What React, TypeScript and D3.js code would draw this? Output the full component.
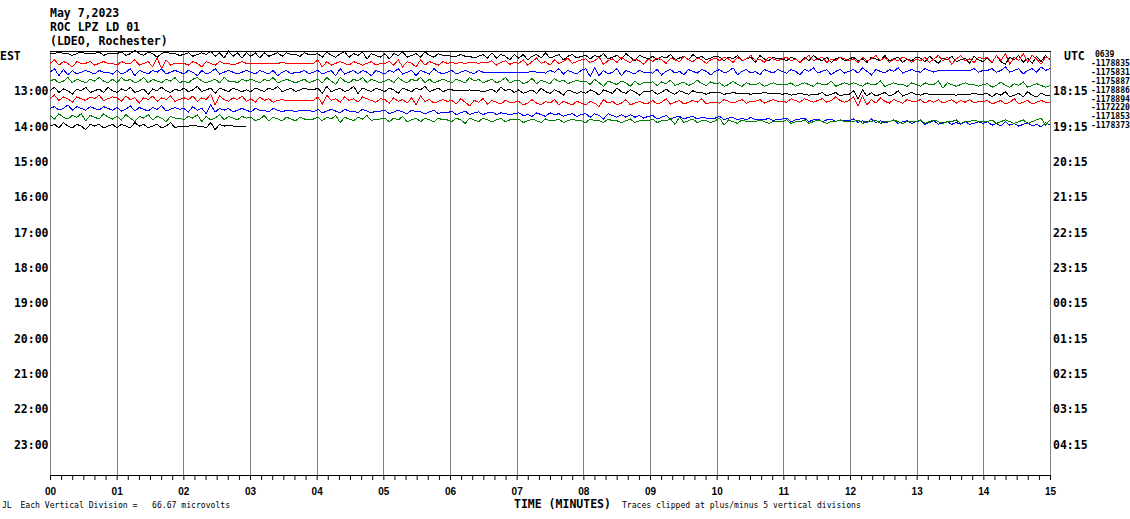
import React, { useEffect, useRef } from 'react';
import * as d3 from 'd3';

// one helicorder row = 15 minutes, one sample every 4 s (15 per minute line)
// values in tenths of a vertical division, positive = up
const row1200 = [
  2,2,4,2,2,0,2,4,2,2,2,4,0,2,2,
  2,4,0,2,6,2,0,4,2,-2,2,4,2,2,0,
  1,3,-1,1,3,1,5,-1,3,-3,5,-1,3,-3,3,
  -1,3,-3,3,-1,1,3,-1,3,1,1,-1,3,1,1,
  2,-2,4,0,-2,2,4,-2,2,0,4,-4,2,0,-2,
  2,-4,2,0,4,-2,0,2,-2,4,0,-2,2,0,0,
  -1,-1,1,-1,-1,-3,-1,1,-3,3,-3,1,-1,-5,1,
  -3,1,-5,-1,1,-3,3,-3,-1,1,-5,-1,1,-3,-1,
  0,-4,0,-2,2,-4,-2,0,-4,2,-2,-6,0,-2,-4,
  -1,-5,-1,-3,1,-5,-3,-1,-5,1,-3,-1,-5,-3,-1,
  -2,-6,-2,-4,0,-6,-4,-2,-8,0,-4,-6,-2,-4,-4,
  -6,-2,-4,-8,-2,-6,0,-4,-6,-2,-8,-4,-2,-6,-4,
  -2,-6,-4,-8,-2,-4,-6,0,-6,-4,-2,-8,-4,-6,-2,
  -3,-7,-1,-5,-9,-3,-5,-1,-7,-5,-3,-9,-1,-5,-7,
  -3,-8,0,-7,-10,-2,-5,0,-8,-3,-9,-1,-7,0,-5,
];
const row1215 = [
  1,5,-1,3,1,-3,3,1,1,3,-1,1,3,1,1,
  -1,3,1,1,5,-1,1,3,-3,7,-5,5,-1,1,1,
  1,-1,3,1,-3,3,1,-1,3,1,1,-1,1,3,1,
  1,1,1,1,1,1,1,2,1,1,1,1,1,1,1,
  5,-3,3,-1,1,3,1,-1,3,1,-1,1,3,-1,1,
  1,3,-1,5,-3,3,1,-3,5,-1,3,1,-1,3,1,
  2,1,2,1,2,2,1,2,2,4,-1,2,4,0,2,
  1,5,-1,3,7,1,3,-1,5,1,3,7,1,3,5,
  6,2,4,8,0,4,6,2,8,4,2,6,4,0,6,
  3,7,5,1,7,5,3,9,5,3,7,5,1,5,7,
  4,8,6,2,8,4,6,10,4,6,2,8,6,4,6,
  8,4,6,2,6,10,4,6,8,2,6,4,8,6,4,
  6,2,8,4,6,10,4,8,2,6,4,8,6,2,6,
  4,8,2,6,10,4,8,0,6,10,4,6,2,8,6,
  8,2,10,4,12,0,8,4,12,2,10,6,0,8,6,
];
const row1230 = [
  1,5,-3,4,-2,3,-1,1,3,1,-1,3,1,1,-1,
  3,-1,1,5,-3,3,1,-1,3,1,5,-1,1,3,1,
  -1,3,1,-3,3,-1,1,5,-1,1,3,1,-1,1,3,
  1,-1,3,1,-1,3,-3,1,3,-1,1,1,3,-1,1,
  3,-1,1,3,-3,5,-1,1,3,-1,3,1,-3,3,1,
  -1,3,1,5,-1,1,3,-3,3,1,-1,5,1,-1,1,
  3,-1,1,3,1,-1,3,1,1,1,1,1,1,1,1,
  1,1,1,2,1,1,0,3,1,5,-1,3,1,-1,3,
  5,-4,6,-3,3,-1,1,5,-3,3,1,-1,3,1,1,
  0,4,-2,2,4,0,2,-2,4,2,0,4,2,-2,2,
  4,0,2,6,-2,2,4,0,2,-2,4,2,0,4,2,
  0,4,2,-2,4,2,6,0,2,4,-2,2,4,0,2,
  4,0,6,2,-2,4,2,0,4,2,6,0,2,4,2,
  1,5,3,1,3,3,3,3,3,3,3,3,5,1,3,
  3,5,1,3,7,1,3,5,-1,3,5,1,7,3,5,
];
const row1245 = [
  1,3,-1,1,5,-1,3,1,-1,3,1,5,1,-1,3,
  -1,5,1,3,-1,1,5,-1,3,1,-1,3,1,5,-1,
  1,-1,3,5,1,-1,1,3,-1,5,1,1,-1,3,1,
  3,1,-1,3,1,5,-1,1,3,1,-1,1,3,-1,1,
  3,-1,5,1,-3,5,1,-1,3,1,5,-1,3,1,-1,
  1,3,-1,5,1,-1,3,1,5,-1,3,-1,1,3,1,
  -1,3,1,-1,5,1,3,-1,1,3,-1,1,5,-1,1,
  2,-2,0,4,-2,2,0,-2,4,0,2,-2,0,2,0,
  1,-3,3,-1,-5,1,-1,-3,1,-1,-5,1,-3,-1,-1,
  0,-4,0,-2,2,-4,-2,0,-4,-2,2,-2,-4,0,-2,
  -1,-5,-3,1,-3,-5,-1,-3,-3,-1,-5,-3,-1,-3,-3,
  -3,-1,-5,-3,-1,-3,-5,-1,-3,-3,1,-5,-3,-1,-3,
  -1,-3,-5,-1,-3,-3,1,-5,-3,-1,-3,-3,-5,-1,-3,
  -5,-1,-3,-3,1,-7,-1,-3,-5,-3,-1,-3,-3,-5,-3,
  -2,-6,-4,0,-4,-6,-2,-4,0,-6,-4,-2,-4,-6,-4,
];
const row1300 = [
  0,4,-2,2,0,-4,2,0,4,-2,0,2,-2,4,0,
  -2,2,0,4,-2,0,2,-4,2,0,4,0,-2,2,0,
  3,-1,1,5,-1,1,3,-3,3,1,-1,3,1,-1,1,
  -1,3,1,-1,3,1,5,-1,1,3,-1,1,3,1,1,
  3,-3,5,-1,1,3,-1,1,5,-3,3,1,-1,3,1,
  -1,3,1,-3,3,1,-1,3,1,5,-1,1,3,-1,1,
  1,0,0,0,1,0,0,-1,0,2,-2,4,0,2,-2,
  1,-3,-1,1,-3,3,-1,-3,1,-1,-5,1,-1,-3,-1,
  -3,1,-1,-5,1,-1,-3,3,-1,-3,1,-1,-5,-1,-1,
  0,-4,-2,2,-2,-4,0,-2,-4,0,-2,-2,-4,-2,-2,
  -2,-4,-3,-2,-3,-3,-3,-4,-3,-3,-2,-3,-3,-3,-4,
  -3,-5,-4,-3,-4,-5,-4,-4,-2,-6,-4,-2,-6,-4,-4,
  0,-9,1,-6,-2,-6,-4,-2,-6,-4,0,-6,-4,-2,-4,
  -5,-3,-4,-4,-4,-4,-4,-4,-5,-4,-4,-4,-3,-4,-4,
  -3,-7,-3,-5,-1,-7,-5,-3,-7,-1,-5,-7,-3,-5,-5,
];
const row1315 = [
  1,5,-1,3,1,-3,3,1,-1,3,1,5,-1,1,3,
  2,-2,4,0,2,-4,2,0,4,-2,2,0,4,-2,0,
  2,0,4,-2,2,0,6,-6,4,0,-2,2,0,4,-2,
  1,-3,3,-1,1,-3,-1,0,-1,-1,-1,-1,-1,-1,-1,
  3,-5,5,-1,1,-3,3,-1,1,-3,3,1,-1,-3,1,
  0,-4,2,-2,0,-4,2,-6,4,-2,0,-4,-2,0,-2,
  -1,-5,1,-3,-7,-1,-3,1,-5,-1,-3,-5,-1,-3,-3,
  -2,-6,-4,0,-4,-6,-2,-4,0,-6,-2,-4,-6,-2,-4,
  -6,-2,-4,-8,0,-4,-2,-6,-4,0,-6,-4,-2,-4,-4,
  -1,-5,-3,1,-5,-3,-1,-5,-3,-1,-3,1,-5,-3,-3,
  -4,0,-2,-4,-2,0,-4,-2,-2,0,-4,-2,0,-2,-2,
  -3,1,-1,-3,1,-1,-3,-1,1,-3,-1,3,-1,-3,-1,
  3,-7,4,-6,0,-4,2,-2,-4,0,-2,-4,0,-2,-2,
  0,-4,-1,-3,0,-4,-2,0,-4,-1,-3,0,-4,-2,-2,
  -1,-5,-3,-1,-5,-3,1,-5,-3,-1,-5,-3,-1,-3,-3,
];
const row1330 = [
  0,2,-2,0,4,-2,2,0,-2,2,0,-2,2,0,-2,
  1,-3,-1,3,-3,1,-1,-3,1,-1,3,-3,-1,1,-1,
  0,-4,2,-2,0,-6,4,-4,0,-2,0,-4,-2,0,-2,
  -4,0,-2,-2,-4,0,-2,-4,-2,-2,-4,-2,-2,-2,-4,
  -1,-5,-3,-1,-3,-5,-1,-3,-3,-5,-1,-3,-5,-3,-3,
  -2,-6,-4,-2,-4,-6,-2,-4,-4,-6,-4,-2,-6,-4,-5,
  -3,-7,-5,-3,-7,-5,-4,-7,-5,-4,-7,-5,-6,-7,-6,
  -5,-8,-7,-9,-5,-7,-9,-5,-7,-6,-9,-7,-6,-9,-7,
  -6,-10,-6,-8,-12,-6,-8,-10,-7,-10,-7,-10,-8,-11,-9,
  -8,-12,-10,-8,-12,-10,-9,-12,-10,-9,-12,-10,-11,-12,-11,
  -9,-13,-11,-10,-13,-11,-13,-10,-13,-12,-13,-11,-14,-12,-12,
  -11,-15,-13,-12,-11,-15,-13,-12,-15,-13,-12,-15,-13,-14,-14,
  -12,-16,-14,-16,-12,-16,-14,-16,-15,-13,-17,-15,-14,-17,-15,
  -14,-18,-16,-14,-18,-16,-15,-18,-16,-18,-15,-18,-17,-15,-17,
  -15,-19,-17,-20,-15,-19,-17,-20,-18,-16,-20,-18,-21,-16,-19,
];
const row1345 = [
  2,-2,4,0,-2,2,0,4,-4,2,0,-2,4,0,-2,
  1,-3,3,-1,-5,1,-1,3,-3,1,-1,-5,1,-1,-1,
  -3,1,-1,3,-5,1,-3,-1,3,-3,1,-1,-3,1,-1,
  0,-4,-2,2,-4,0,-2,-4,0,-2,-4,0,-2,-2,-2,
  0,-4,0,-2,2,-6,0,-2,-4,0,-2,2,-4,-2,-2,
  -1,-5,-1,-3,1,-5,-3,-1,-5,-1,-3,-5,-1,-3,-3,
  -5,-1,-3,-7,-1,-3,-5,-1,-3,-5,-3,-1,-5,-3,-3,
  -2,-6,-4,-2,-4,-6,-2,-4,-4,-2,-6,-4,-2,-4,-4,
  -6,-2,-4,-4,-6,-2,-4,-4,-6,-4,-2,-6,-4,-4,-4,
  -2,-6,-4,-4,-2,-8,0,-6,-4,-2,-6,-4,-4,-6,-4,
  -1,-9,-3,-5,-7,-3,-5,-5,-5,-3,-5,-7,-5,-5,-5,
  -3,-7,-5,-5,-3,-7,-5,-3,-5,-7,-5,-5,-3,-5,-5,
  -5,-3,-7,-5,-5,-3,-7,-5,-5,-3,-5,-7,-5,-5,-5,
  -3,-7,-5,-3,-5,-7,-5,-5,-3,-7,-5,-5,-3,-5,-5,
  -5,-3,-7,-5,-3,-5,-7,-5,-3,-7,-5,-3,-1,-9,-3,
];
const row1400 = [
  0,2,-2,4,0,-2,2,0,-4,2,0,2,-2,0,2,
  -2,2,0,-2,4,0,2,-2,0,2,-2,0,4,-2,0,
  0,0,1,0,0,-2,4,-4,2,0,1,0,0,0,0,
];

const traces = [row1200, row1215, row1230, row1245, row1300, row1315, row1330, row1345, row1400];
const traceColors = ['#000000', '#ff0000', '#0000ff', '#008000'];

const titleLines = ['May 7,2023', 'ROC LPZ LD 01', '(LDEO, Rochester)'];
const estLabels = ['13:00', '14:00', '15:00', '16:00', '17:00', '18:00', '19:00', '20:00', '21:00', '22:00', '23:00'];
const utcLabels = ['18:15', '19:15', '20:15', '21:15', '22:15', '23:15', '00:15', '01:15', '02:15', '03:15', '04:15'];
const rowCounts = ['0639', '-1178835', '-1175831', '-1175887', '-1178886', '-1178894', '-1172220', '-1171853', '-1178373'];
const minuteLabels = ['00', '01', '02', '03', '04', '05', '06', '07', '08', '09', '10', '11', '12', '13', '14', '15'];

const MONO = "'DejaVu Sans Mono', monospace";

export default function App() {
  const svgRef = useRef<SVGSVGElement>(null);

  useEffect(() => {
    if (!svgRef.current) return;
    const svg = d3.select(svgRef.current);
    svg.selectAll('*').remove();

    const width = 1130;
    const height = 519;
    const left = 50, right = 1050, top = 51, bottom = 475;
    const rowsPerPage = 48;
    const samplesPerRow = 225;

    const x = d3.scaleLinear().domain([0, 15]).range([left, right]);
    const sampleX = d3.scaleLinear().domain([0, samplesPerRow - 1]).range([left, right]);
    const row = d3.scaleLinear().domain([0, rowsPerPage]).range([top, bottom]);
    const rowH = (bottom - top) / rowsPerPage;
    const amp = d3.scaleLinear().domain([0, 10]).range([0, -rowH]);
    const rowCenter = (k: number) => row(k + 0.5);

    svg.append('rect').attr('width', width).attr('height', height).attr('fill', '#fff');

    // minute grid
    svg.append('g')
      .selectAll('line')
      .data(minuteLabels)
      .join('line')
      .attr('x1', (_, i) => Math.round(x(i)) + 0.5)
      .attr('x2', (_, i) => Math.round(x(i)) + 0.5)
      .attr('y1', top)
      .attr('y2', bottom)
      .attr('stroke', '#808080')
      .attr('stroke-width', 1);

    svg.append('line')
      .attr('x1', left)
      .attr('x2', right + 1)
      .attr('y1', top + 0.5)
      .attr('y2', top + 0.5)
      .attr('stroke', '#000');

    // traces
    traces.forEach((vals, k) => {
      const cy = rowCenter(k);
      const line = d3.line<number>()
        .x((_, i) => sampleX(i))
        .y(d => cy + amp(d));
      svg.append('path')
        .datum(vals)
        .attr('d', line)
        .attr('fill', 'none')
        .attr('stroke', traceColors[k % traceColors.length])
        .attr('stroke-width', 1)
        .attr('shape-rendering', 'crispEdges');
    });

    // time axis
    const axis = d3.axisBottom(x)
      .tickValues(d3.range(0, 91).map(i => i / 6))
      .tickSize(5)
      .tickSizeOuter(0)
      .tickFormat((_, i) => (i % 6 === 0 ? minuteLabels[i / 6] : ''));
    const gx = svg.append('g')
      .attr('transform', `translate(0,${bottom})`)
      .attr('font-family', MONO)
      .attr('font-size', 10)
      .attr('font-weight', 'bold')
      .call(axis);
    gx.select('.domain').attr('stroke', '#000');
    gx.selectAll('.tick line').attr('stroke', '#000');
    gx.selectAll('.tick text').attr('y', 19.5).attr('dy', 0).attr('fill', '#000');

    const big = (sel: any) => sel
      .attr('font-family', MONO)
      .attr('font-size', 11.5)
      .attr('font-weight', 'bold')
      .attr('fill', '#000');
    const small = (sel: any) => sel
      .attr('font-family', MONO)
      .attr('font-size', 8.1)
      .attr('fill', '#000');

    // header
    titleLines.forEach((t, i) => {
      big(svg.append('text').attr('x', left).attr('y', 16.5 + i * 14).text(t));
    });

    // hour labels
    big(svg.append('text').attr('x', 0).attr('y', rowCenter(0) + 4.6).text('EST'));
    big(svg.append('text').attr('x', 1064).attr('y', rowCenter(0) + 4.6).text('UTC'));
    estLabels.forEach((t, i) => {
      big(svg.append('text')
        .attr('x', 48.5)
        .attr('y', rowCenter((i + 1) * 4) + 4.6)
        .attr('text-anchor', 'end')
        .text(t));
    });
    utcLabels.forEach((t, i) => {
      big(svg.append('text')
        .attr('x', 1053)
        .attr('y', rowCenter((i + 1) * 4) + 4.6)
        .text(t));
    });

    // row totals on the right
    rowCounts.forEach((t, k) => {
      small(svg.append('text')
        .attr('x', k === 0 ? 1095 : 1091)
        .attr('y', rowCenter(k) + 2)
        .attr('font-weight', 'bold')
        .text(t));
    });

    // footer
    small(svg.append('text').attr('x', 2).attr('y', 508).attr('font-size', 5).text('JL'));
    small(svg.append('text').attr('x', 20.5).attr('y', 508)
      .attr('xml:space', 'preserve')
      .style('white-space', 'pre')
      .text('Each Vertical Division =   66.67 microvolts'));
    big(svg.append('text').attr('x', 514).attr('y', 507.5).attr('font-size', 11).text('TIME (MINUTES)'));
    small(svg.append('text').attr('x', 622).attr('y', 507.5)
      .text('Traces clipped at plus/minus 5 vertical divisions'));
  }, []);

  return (
    <svg
      ref={svgRef}
      width={1130}
      height={519}
      style={{ position: 'absolute', left: 0, top: 0, display: 'block' }}
    />
  );
}
